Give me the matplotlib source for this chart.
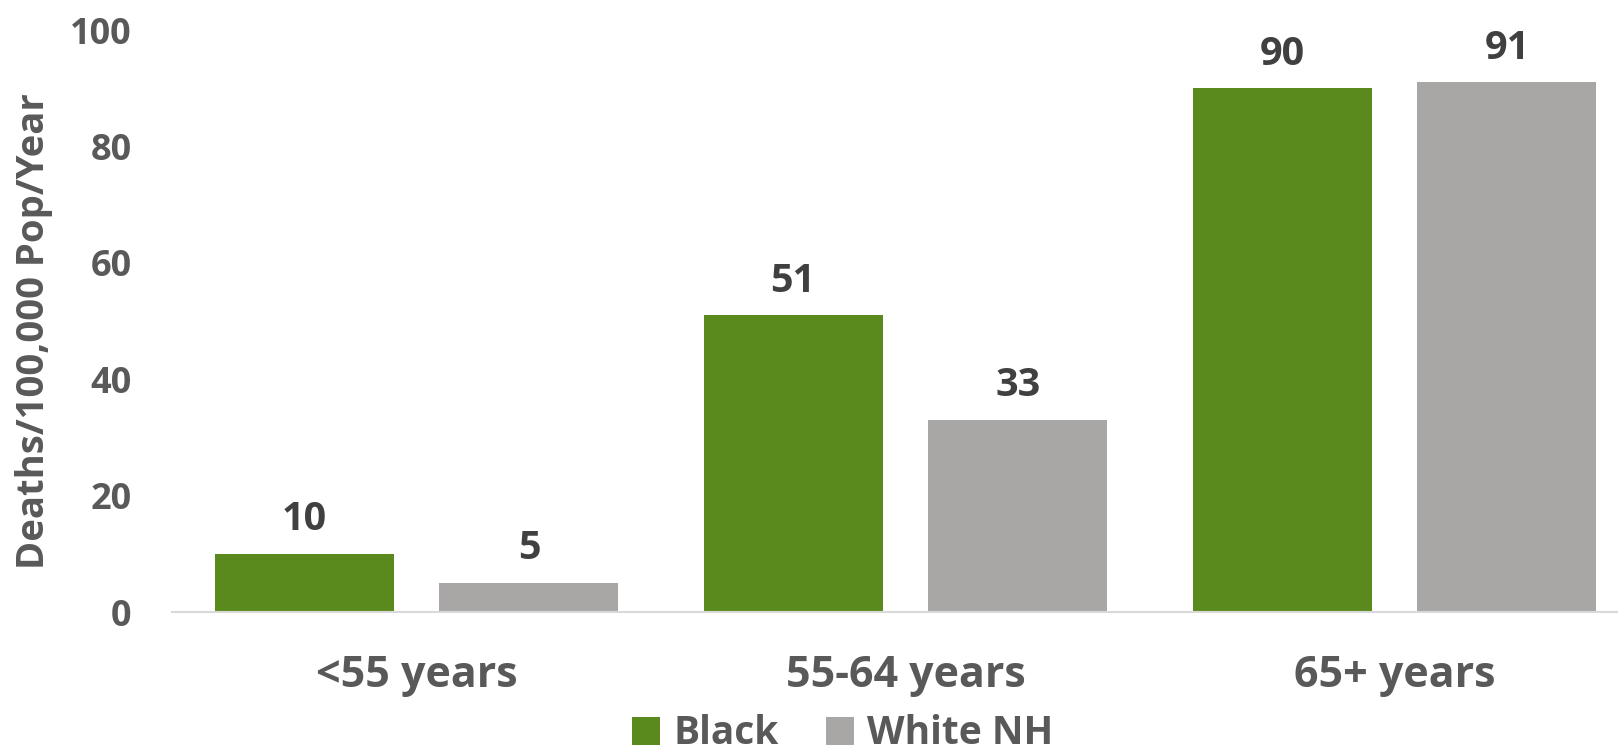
import matplotlib
matplotlib.use("Agg")
import matplotlib.pyplot as plt
import matplotlib.transforms as mtransforms
from matplotlib.patches import Patch
import numpy as np

categories = ["<55 years", "55-64 years", "65+ years"]
black_values = [10, 51, 90]
white_nh_values = [5, 33, 91]
series_names = ["Black", "White NH"]
y_ticks = [0, 20, 40, 60, 80, 100]

GREEN = "#5A8A1E"
GRAY = "#A9A6A6"
TEXT = "#595959"
VALUE_TEXT = "#404040"

plt.rcParams["font.family"] = ["Open Sans", "DejaVu Sans"]
plt.rcParams["font.weight"] = "bold"

W, H = 1618, 753
fig = plt.figure(figsize=(W / 100, H / 100), dpi=100)
ax = fig.add_axes([172 / W, 141 / H, 1 - 172 / W, 582 / H])

x = np.arange(len(categories))
width = 0.366
offset = 0.23
bars_b = ax.bar(x - offset, black_values, width, color=GREEN, zorder=2)
bars_w = ax.bar(x + offset, white_nh_values, width, color=GRAY, zorder=2)

ax.set_xlim(-0.5, -0.5 + 1446 / 489)
ax.set_ylim(0, 100)

for s in ["top", "right", "left"]:
    ax.spines[s].set_visible(False)
ax.spines["bottom"].set_color("#D9D9D9")
ax.spines["bottom"].set_linewidth(1.5)
ax.spines["bottom"].set_zorder(3)

ax.set_yticks(y_ticks)
ax.set_yticklabels([str(t) for t in y_ticks], fontsize=26, color=TEXT, fontweight="bold")
ax.tick_params(axis="y", length=0, pad=29)
ax.set_xticks([])

# value labels above bars
for bars, vals in ((bars_b, black_values), (bars_w, white_nh_values)):
    for b, v in zip(bars, vals):
        ax.annotate(str(v), (b.get_x() + b.get_width() / 2, v),
                    xytext=(0, 17), textcoords="offset points",
                    ha="center", va="baseline", fontsize=28.5,
                    color=VALUE_TEXT, fontweight="bold")

# category labels under each group
trans = mtransforms.blended_transform_factory(ax.transData, fig.transFigure)
for xi, c in zip(x, categories):
    ax.text(xi, 66 / H, c, transform=trans, ha="center", va="baseline",
            fontsize=31, color=TEXT, fontweight="bold")

fig.text(34 / W, 422 / H, "Deaths/100,000 Pop/Year", rotation=90,
         ha="center", va="center", fontsize=27.5, color=TEXT, fontweight="bold")

handles = [Patch(facecolor=GREEN), Patch(facecolor=GRAY)]
leg = fig.legend(handles, series_names, loc="center", bbox_to_anchor=(843 / W, 19 / H),
                 ncol=2, frameon=False, fontsize=28, handlelength=0.72, handleheight=0.72,
                 handletextpad=0.35, columnspacing=1.2, borderaxespad=0)
for t in leg.get_texts():
    t.set_color(TEXT)
    t.set_fontweight("bold")

fig.savefig("out.png", dpi=100)
